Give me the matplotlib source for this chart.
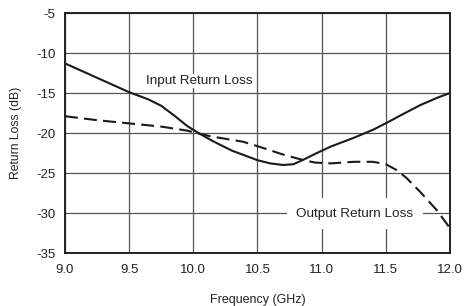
import matplotlib
matplotlib.use("Agg")
import matplotlib.pyplot as plt
import numpy as np

# Input return loss (solid)
f_in = [9.0, 9.25, 9.5, 9.65, 9.75, 9.85, 9.95, 10.05, 10.15, 10.3, 10.5, 10.6, 10.7,
        10.78, 10.85, 10.95, 11.07, 11.25, 11.4, 11.51, 11.65, 11.77, 11.9, 12.0]
rl_in = [-11.3, -13.1, -14.9, -15.8, -16.6, -17.8, -19.1, -20.1, -21.0, -22.2, -23.4, -23.8, -24.0,
         -23.9, -23.4, -22.6, -21.7, -20.6, -19.6, -18.7, -17.5, -16.5, -15.6, -15.0]

# Output return loss (dashed)
f_out = [9.0, 9.25, 9.5, 9.75, 9.95, 10.13, 10.39, 10.55, 10.7, 10.86, 10.95, 11.07, 11.25,
         11.4, 11.5, 11.58, 11.66, 11.77, 11.9, 12.0]
rl_out = [-17.9, -18.4, -18.8, -19.2, -19.7, -20.4, -21.1, -21.9, -22.7, -23.4, -23.7, -23.8, -23.6,
          -23.6, -23.9, -24.6, -25.6, -27.4, -29.7, -31.9]

xticks = [9.0, 9.5, 10.0, 10.5, 11.0, 11.5, 12.0]
yticks = [-35, -30, -25, -20, -15, -10, -5]

plt.rcParams['font.family'] = ['Liberation Sans', 'DejaVu Sans']

fig = plt.figure(figsize=(4.65, 3.06), dpi=100)
ax = fig.add_axes([65/465, 1-253/306, 385/465, 240/306])

ax.plot(f_in, rl_in, color='#1a1a1a', linewidth=1.5, solid_joinstyle='round', zorder=3)
ax.plot(f_out, rl_out, color='#1a1a1a', linewidth=1.5, linestyle=(0, (6.2, 3.0)), zorder=3)

ax.set_xlim(9.0, 12.0)
ax.set_ylim(-35, -5)
ax.set_xticks(xticks)
ax.set_xticklabels([f"{t:.1f}" for t in xticks])
ax.set_yticks(yticks)
ax.set_yticklabels([str(t) for t in yticks])
ax.tick_params(length=0, labelsize=9.5, colors='#222222')
ax.tick_params(axis='x', pad=8)
ax.tick_params(axis='y', pad=7)

ax.grid(True, color='#555555', linewidth=0.9)
ax.set_axisbelow(True)
for sp in ax.spines.values():
    sp.set_linewidth(1.4)
    sp.set_color('#222222')

ax.set_xlabel("Frequency (GHz)", fontsize=9, color='#222222', labelpad=13)
ax.set_ylabel("Return Loss (dB)", fontsize=8.7, color='#222222', labelpad=10)

ax.text(10.05, -13.5, "Input Return Loss", fontsize=9.7, ha='center', va='center',
        color='#222222', zorder=2,
        bbox=dict(facecolor='white', edgecolor='none', boxstyle='square,pad=0.05'))
ax.text(11.26, -30.1, "Output Return Loss", fontsize=9.7, ha='center', va='center',
        color='#222222', zorder=2,
        bbox=dict(facecolor='white', edgecolor='none', boxstyle='square,pad=0.7'))

fig.savefig("out.png", dpi=100)
